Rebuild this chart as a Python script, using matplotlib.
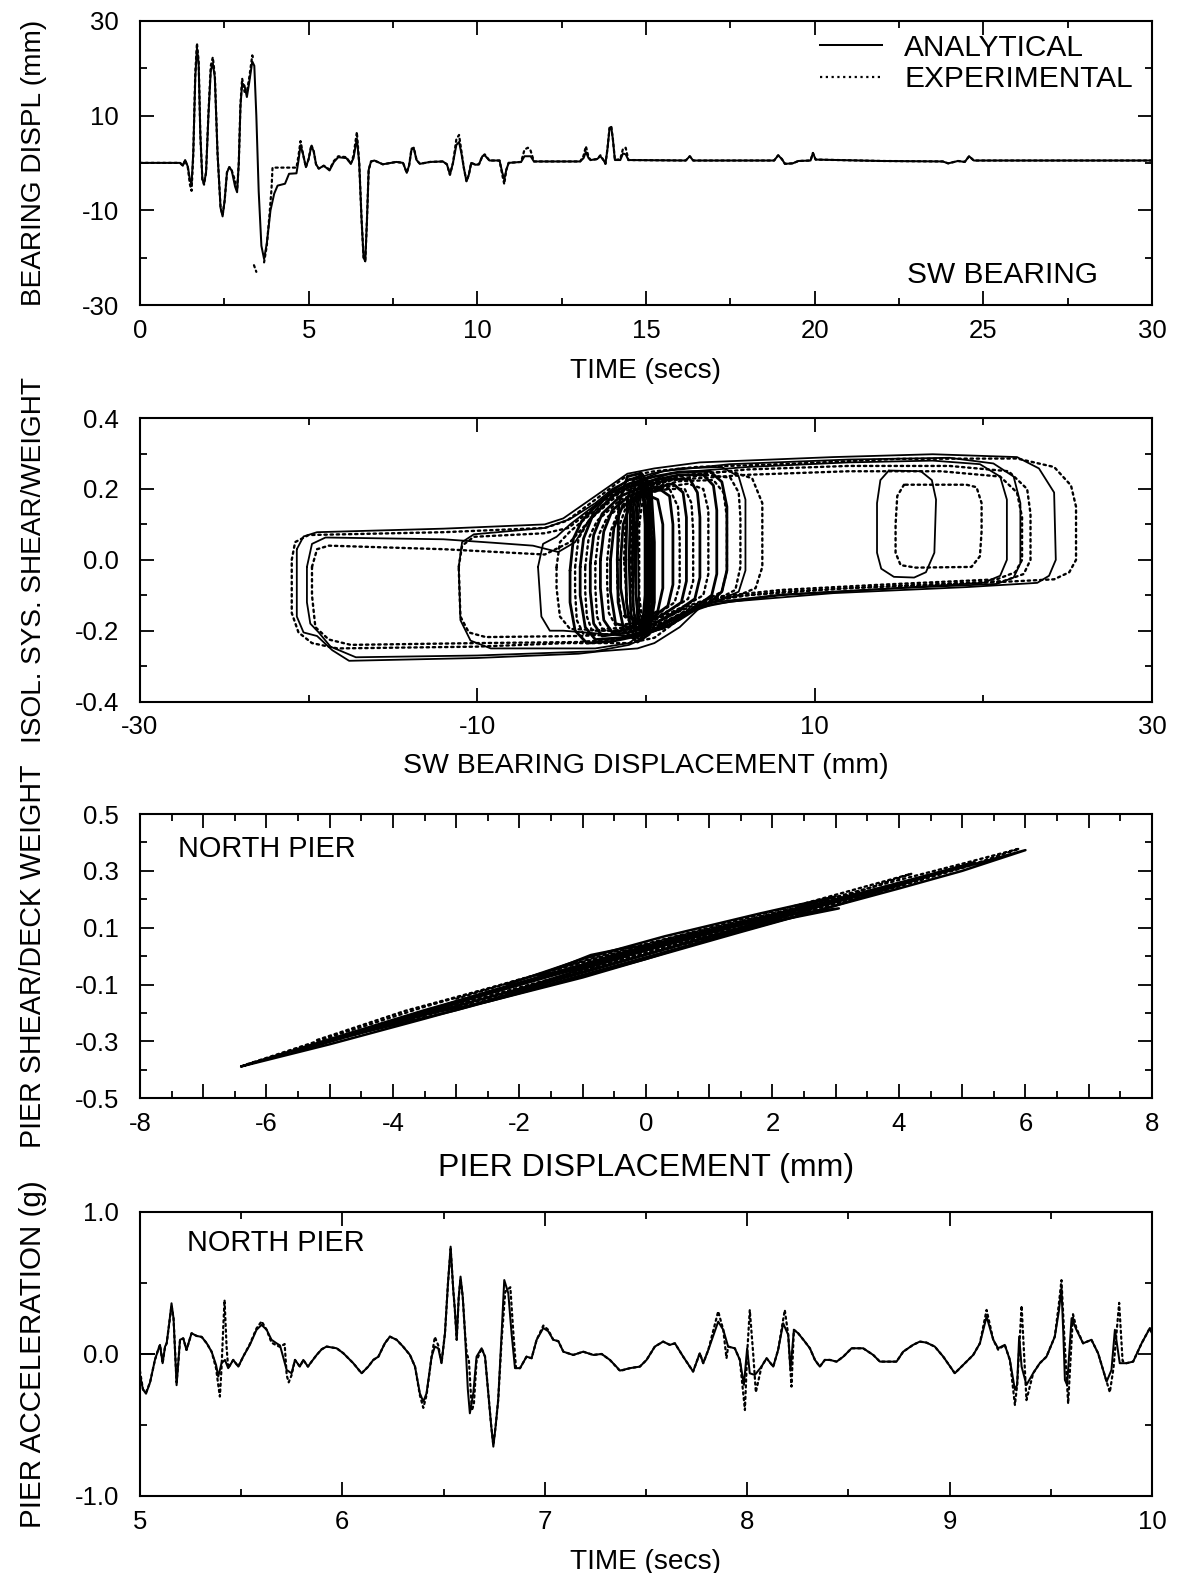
import matplotlib
matplotlib.use("Agg")
import matplotlib.pyplot as plt
from matplotlib.ticker import FixedLocator, MultipleLocator, FuncFormatter

plt.rcParams["font.family"] = ["Liberation Sans", "DejaVu Sans"]
plt.rcParams["axes.unicode_minus"] = False

# ---------------------------------------------------------------- data
# (1) SW bearing displacement history: (time s, displacement mm)
bearing_analytical = [
    (0.00, 0.0), (1.19, 0.0), (1.27, -0.6), (1.34, 0.6), (1.42, -0.8), (1.48, -3.5), (1.53, -4.4),
    (1.58, 2.0), (1.64, 18.0), (1.69, 24.2), (1.74, 21.0), (1.79, 6.0), (1.85, -3.5), (1.90, -4.4),
    (1.96, -2.0), (2.03, 10.0), (2.10, 19.5), (2.16, 21.0), (2.22, 18.0), (2.30, 2.0), (2.39, -9.5),
    (2.45, -11.3), (2.51, -8.0), (2.58, -2.0), (2.65, -0.9), (2.72, -1.6), (2.82, -5.0), (2.88, -6.2),
    (2.93, 0.0), (2.98, 12.0), (3.03, 16.8), (3.10, 16.3), (3.17, 13.9), (3.24, 17.0), (3.33, 21.4),
    (3.39, 20.5), (3.45, 10.0), (3.52, -6.0), (3.60, -17.5), (3.68, -20.3), (3.76, -17.0), (3.87, -10.0),
    (3.98, -6.5), (4.08, -4.8), (4.30, -4.4), (4.42, -2.3), (4.64, -2.2), (4.70, 0.5), (4.76, 3.7),
    (4.83, 2.0), (4.92, -0.9), (5.00, 0.8), (5.08, 3.5), (5.15, 2.5), (5.22, -0.3), (5.30, -1.2),
    (5.45, -0.6), (5.62, -1.6), (5.75, 0.2), (5.88, 1.2), (6.12, 1.0), (6.25, -0.2), (6.33, 1.0),
    (6.43, 5.1), (6.50, 0.0), (6.57, -12.0), (6.63, -20.0), (6.68, -20.8), (6.73, -12.0), (6.78, -1.5),
    (6.85, 0.3), (6.95, 0.5), (7.20, -0.3), (7.60, 0.2), (7.80, 0.0), (7.91, -2.1), (7.98, -0.5),
    (8.05, 2.8), (8.12, 3.0), (8.20, 0.6), (8.30, -0.2), (8.60, 0.2), (8.98, 0.3), (9.10, -0.3),
    (9.19, -2.5), (9.28, 0.0), (9.38, 3.8), (9.46, 4.4), (9.53, 2.0), (9.60, -1.0), (9.68, -3.9),
    (9.75, -2.5), (9.82, 0.0), (9.95, -0.4), (10.05, -0.3), (10.15, 1.4), (10.22, 1.6), (10.36, 0.5),
    (10.66, 0.5), (10.74, -2.0), (10.80, -3.5), (10.86, -1.5), (10.93, 0.0), (11.30, 0.2), (11.40, 1.4),
    (11.58, 1.4), (11.68, 0.3), (13.05, 0.3), (13.15, 1.0), (13.22, 2.3), (13.30, 1.0), (13.36, 0.6),
    (13.55, 0.8), (13.65, 1.4), (13.75, 0.5), (13.80, -0.2), (13.86, 3.0), (13.92, 7.2), (13.97, 7.6),
    (14.02, 5.0), (14.08, 0.6), (14.24, 0.6), (14.32, 2.0), (14.40, 1.8), (14.48, 0.6), (16.18, 0.5),
    (16.30, 1.4), (16.40, 0.5), (18.80, 0.5), (18.92, 1.6), (19.03, 0.8), (19.12, -0.2), (19.35, -0.1),
    (19.52, 0.4), (19.88, 0.5), (19.95, 2.1), (20.03, 0.7), (22.0, 0.4), (23.80, 0.3), (23.96, -0.1),
    (24.25, 0.4), (24.45, 0.2), (24.58, 1.4), (24.72, 0.5), (30.00, 0.5),
]
bearing_experimental = [
    (0.00, 0.0), (1.19, 0.0), (1.27, -0.6), (1.34, 0.6), (1.42, -1.0), (1.48, -4.5), (1.53, -5.9),
    (1.58, 1.5), (1.64, 19.0), (1.69, 25.3), (1.74, 21.5), (1.79, 6.0), (1.85, -3.5), (1.90, -4.6),
    (1.96, -2.0), (2.03, 10.5), (2.10, 20.5), (2.16, 22.3), (2.22, 18.5), (2.30, 2.0), (2.39, -9.5),
    (2.45, -11.0), (2.51, -8.0), (2.58, -2.0), (2.65, -0.9), (2.72, -1.6), (2.80, -3.3), (2.88, -5.8),
    (2.93, 0.0), (2.98, 12.5), (3.03, 17.8), (3.10, 15.0), (3.17, 15.0), (3.24, 18.0), (3.33, 22.7),
    (3.36, 22.0), (3.37, float("nan")), (3.38, -21.6), (3.45, -23.0), (3.48, float("nan")),
    (3.68, -21.0), (3.76, -17.5), (3.84, -11.0), (3.90, -5.5), (3.93, -1.0), (4.40, -1.0),
    (4.64, -1.0), (4.70, 1.5), (4.76, 4.6), (4.83, 2.0), (4.92, -0.9), (5.00, 0.8), (5.08, 3.8),
    (5.15, 2.5), (5.22, -0.3), (5.30, -1.2), (5.45, -0.6), (5.62, -1.4), (5.75, 0.4), (5.88, 1.4),
    (6.12, 1.2), (6.25, -0.2), (6.33, 1.5), (6.43, 6.5), (6.50, 0.0), (6.57, -12.0), (6.63, -20.0),
    (6.68, -20.6), (6.73, -12.0), (6.78, -1.5), (6.85, 0.3), (6.95, 0.5), (7.20, -0.3), (7.60, 0.2),
    (7.80, 0.0), (7.91, -2.1), (7.98, -0.5), (8.05, 3.0), (8.12, 3.2), (8.20, 0.6), (8.30, -0.2),
    (8.60, 0.2), (8.98, 0.3), (9.10, -0.3), (9.19, -2.5), (9.28, 0.0), (9.38, 5.0), (9.46, 5.9),
    (9.53, 2.5), (9.60, -1.0), (9.68, -3.9), (9.75, -2.5), (9.82, 0.0), (9.95, -0.4), (10.05, -0.3),
    (10.15, 1.4), (10.22, 1.8), (10.36, 0.5), (10.66, 0.5), (10.74, -2.5), (10.80, -4.5), (10.86, -1.5),
    (10.93, 0.0), (11.30, 0.2), (11.40, 2.8), (11.50, 3.2), (11.58, 2.6), (11.68, 0.3), (13.05, 0.3),
    (13.15, 1.5), (13.22, 3.5), (13.30, 1.2), (13.36, 0.6), (13.55, 0.8), (13.65, 1.6), (13.75, 0.5),
    (13.80, -0.2), (13.86, 3.0), (13.92, 7.4), (13.97, 7.8), (14.02, 5.0), (14.08, 0.6), (14.24, 0.8),
    (14.32, 3.0), (14.40, 3.2), (14.48, 0.6), (16.18, 0.5), (16.30, 1.4), (16.40, 0.5), (18.80, 0.5),
    (18.92, 1.6), (19.03, 0.8), (19.12, -0.2), (19.35, -0.1), (19.52, 0.4), (19.88, 0.5), (19.95, 2.1),
    (20.03, 0.7), (22.0, 0.4), (23.80, 0.3), (23.96, -0.1), (24.25, 0.4), (24.45, 0.2), (24.58, 1.4),
    (24.72, 0.5), (30.00, 0.5),
]

# (2) isolation system hysteresis loops: (bearing displacement mm, shear/weight)
iso_analytical_full = [
    (-20.7, 0.03), (-20.3, 0.066), (-19.5, 0.078), (-12.0, 0.088), (-6.0, 0.100), (-4.9, 0.117),
    (-3.0, 0.18), (-1.1, 0.243), (0.5, 0.258), (3.2, 0.275), (11.1, 0.29), (17.0, 0.298), (22.0, 0.29),
    (23.3, 0.258), (24.2, 0.19), (24.3, 0.0), (23.9, -0.045), (23.2, -0.065), (19.0, -0.077),
    (11.1, -0.094), (5.0, -0.118), (3.2, -0.135), (2.0, -0.19), (0.5, -0.235), (-0.5, -0.25),
    (-2.7, -0.258), (-4.0, -0.265), (-10.0, -0.277), (-17.6, -0.285), (-18.6, -0.255), (-19.5, -0.215),
    (-20.3, -0.205), (-20.7, -0.16), (-20.7, 0.03),
]
iso_analytical_left = [
    (-20.1, -0.02), (-19.8, 0.045), (-19.0, 0.063), (-12.0, 0.058), (-9.0, 0.048), (-6.7, 0.040),
    (-5.2, 0.022), (-4.2, 0.05), (-3.0, 0.14), (-2.0, 0.195), (-1.0, 0.228), (-0.3, 0.235), (0.1, 0.18),
    (0.1, -0.15), (-0.3, -0.225), (-1.0, -0.24), (-3.0, -0.258), (-10.0, -0.27), (-17.2, -0.275),
    (-18.7, -0.245), (-19.4, -0.205), (-19.9, -0.18), (-20.1, -0.12), (-20.1, -0.02),
]
iso_analytical_mid = [
    (-11.1, -0.02), (-10.9, 0.05), (-10.2, 0.072), (-6.0, 0.09), (-4.5, 0.115), (-3.0, 0.16),
    (-2.0, 0.2), (-1.0, 0.225), (-0.2, 0.23), (0.2, 0.16), (0.3, -0.1), (0.0, -0.2), (-1.0, -0.235),
    (-3.0, -0.25), (-9.2, -0.25), (-10.4, -0.228), (-11.0, -0.17), (-11.1, -0.02),
]
iso_analytical_inner = [
    (-6.4, -0.02), (-6.1, 0.045), (-5.3, 0.065), (-4.5, 0.1), (-3.0, 0.155), (-2.0, 0.195),
    (-1.0, 0.225), (0.5, 0.245), (2.0, 0.258), (4.5, 0.262), (5.5, 0.235), (5.9, 0.17), (5.9, -0.03),
    (5.5, -0.09), (4.5, -0.11), (3.0, -0.14), (2.0, -0.17), (1.0, -0.195), (-1.0, -0.215),
    (-4.9, -0.2), (-5.7, -0.2), (-6.2, -0.16), (-6.4, -0.02),
]
iso_analytical_right_a = [
    (-0.7, 0.12), (-0.4, 0.225), (1.0, 0.25), (5.0, 0.27), (12.0, 0.283), (18.0, 0.288),
    (20.6, 0.272), (21.8, 0.235), (22.2, 0.16), (22.2, -0.01), (21.8, -0.05), (20.8, -0.068),
    (15.0, -0.08), (8.0, -0.1), (4.0, -0.125), (2.5, -0.15), (1.5, -0.185), (0.3, -0.205),
    (-0.5, -0.18), (-0.7, 0.0), (-0.7, 0.12),
]
iso_analytical_right_b = [
    (-0.5, 0.1), (-0.2, 0.215), (1.5, 0.245), (6.0, 0.262), (12.0, 0.275), (17.0, 0.28),
    (19.8, 0.27), (21.0, 0.235), (21.4, 0.17), (21.4, 0.0), (21.0, -0.045), (20.0, -0.065),
    (14.0, -0.082), (8.0, -0.098), (4.0, -0.12), (2.5, -0.145), (1.2, -0.18), (0.2, -0.2),
    (-0.4, -0.15), (-0.5, 0.1),
]
iso_analytical_small = [
    (14.4, 0.252), (13.9, 0.225), (13.7, 0.16), (13.7, 0.02), (13.95, -0.025), (14.7, -0.048),
    (15.9, -0.05), (16.6, -0.035), (17.1, 0.02), (17.2, 0.17), (16.95, 0.225), (16.3, 0.25),
    (14.4, 0.252),
]
iso_analytical_core = [
    [(-4.5, -0.03), (-4.3, 0.06), (-3.8, 0.11), (-3.0, 0.15), (-2.0, 0.19), (-1.0, 0.215), (0.5, 0.235),
     (2.0, 0.248), (3.8, 0.25), (4.5, 0.22), (4.8, 0.15), (4.8, -0.03), (4.5, -0.09), (3.8, -0.12),
     (2.5, -0.15), (1.5, -0.18), (0.0, -0.21), (-2.0, -0.23), (-3.5, -0.235), (-4.2, -0.2),
     (-4.5, -0.12), (-4.5, -0.03)],
    [(-3.9, -0.02), (-3.7, 0.06), (-3.2, 0.12), (-2.0, 0.18), (-1.0, 0.205), (0.5, 0.225), (2.0, 0.24),
     (3.4, 0.24), (4.0, 0.21), (4.2, 0.14), (4.2, -0.04), (3.9, -0.1), (3.2, -0.125), (2.0, -0.16),
     (0.5, -0.195), (-1.5, -0.22), (-3.0, -0.225), (-3.6, -0.19), (-3.9, -0.1), (-3.9, -0.02)],
    [(-3.3, -0.01), (-3.1, 0.07), (-2.6, 0.13), (-1.5, 0.18), (0.0, 0.21), (1.5, 0.228), (2.6, 0.228),
     (3.05, 0.19), (3.2, 0.12), (3.2, -0.05), (2.9, -0.11), (2.0, -0.14), (0.5, -0.18), (-1.0, -0.205),
     (-2.6, -0.215), (-3.1, -0.18), (-3.3, -0.09), (-3.3, -0.01)],
    [(-2.7, 0.0), (-2.5, 0.08), (-2.0, 0.14), (-1.0, 0.18), (0.3, 0.2), (1.6, 0.215), (2.2, 0.19),
     (2.4, 0.12), (2.4, -0.06), (2.1, -0.12), (1.0, -0.155), (-0.5, -0.19), (-2.0, -0.205),
     (-2.5, -0.17), (-2.7, -0.08), (-2.7, 0.0)],
    [(-2.1, 0.0), (-1.9, 0.09), (-1.4, 0.15), (-0.5, 0.18), (0.8, 0.2), (1.4, 0.18), (1.6, 0.1),
     (1.6, -0.07), (1.3, -0.13), (0.3, -0.165), (-1.0, -0.19), (-1.8, -0.18), (-2.1, -0.09), (-2.1, 0.0)],
    [(-1.5, 0.0), (-1.35, 0.1), (-0.9, 0.16), (0.0, 0.185), (0.7, 0.17), (1.0, 0.1), (1.0, -0.08),
     (0.7, -0.145), (-0.3, -0.17), (-1.2, -0.16), (-1.5, -0.08), (-1.5, 0.0)],
    [(-1.7, 0.0), (-1.6, 0.16), (-1.1, 0.235), (-0.3, 0.245), (0.3, 0.21), (0.5, 0.05), (0.5, -0.12),
     (0.2, -0.21), (-0.5, -0.232), (-1.3, -0.2), (-1.65, -0.12), (-1.7, 0.0)],
    [(-1.2, 0.0), (-1.1, 0.17), (-0.7, 0.23), (-0.2, 0.24), (0.2, 0.2), (0.35, 0.05), (0.35, -0.12),
     (0.1, -0.2), (-0.4, -0.225), (-0.9, -0.2), (-1.15, -0.12), (-1.2, 0.0)],
    [(-1.0, 0.0), (-0.9, 0.16), (-0.6, 0.215), (-0.2, 0.22), (0.1, 0.17), (0.2, 0.0), (0.15, -0.15),
     (-0.2, -0.21), (-0.6, -0.205), (-0.9, -0.15), (-1.0, 0.0)],
    [(-0.8, 0.0), (-0.75, 0.15), (-0.5, 0.2), (-0.2, 0.2), (0.0, 0.15), (0.05, 0.0), (0.0, -0.15),
     (-0.3, -0.2), (-0.6, -0.19), (-0.75, -0.13), (-0.8, 0.0)],
    [(-0.6, 0.0), (-0.55, 0.14), (-0.35, 0.19), (-0.15, 0.18), (-0.05, 0.1), (-0.05, -0.1),
     (-0.2, -0.18), (-0.45, -0.17), (-0.58, -0.1), (-0.6, 0.0)],
]

iso_experimental_full = [
    (-21.0, 0.0), (-20.8, 0.05), (-20.0, 0.07), (-12.0, 0.078), (-6.0, 0.09), (-4.7, 0.11),
    (-3.0, 0.17), (-1.2, 0.235), (0.5, 0.25), (3.0, 0.262), (8.0, 0.27), (15.0, 0.285), (22.0, 0.286),
    (24.2, 0.262), (25.2, 0.21), (25.5, 0.15), (25.5, 0.0), (25.1, -0.035), (24.2, -0.055),
    (20.0, -0.065), (12.0, -0.08), (6.0, -0.1), (3.5, -0.12), (2.2, -0.16), (0.5, -0.22),
    (-1.0, -0.235), (-4.7, -0.235), (-10.0, -0.245), (-18.3, -0.25), (-19.8, -0.235), (-20.6, -0.205),
    (-21.0, -0.15), (-21.0, 0.0),
]
iso_experimental_left = [
    (-19.8, -0.02), (-19.5, 0.03), (-18.8, 0.04), (-12.0, 0.03), (-8.0, 0.02), (-6.0, 0.015),
    (-4.5, 0.05), (-3.0, 0.13), (-1.5, 0.2), (-0.5, 0.22), (0.0, 0.15), (0.0, -0.15), (-0.5, -0.21),
    (-2.0, -0.225), (-4.0, -0.232), (-10.0, -0.235), (-17.5, -0.24), (-18.8, -0.225), (-19.6, -0.19),
    (-19.8, -0.1), (-19.8, -0.02),
]
iso_experimental_mid = [
    (-11.1, -0.02), (-10.9, 0.04), (-10.2, 0.065), (-6.0, 0.075), (-4.6, 0.09), (-3.0, 0.15),
    (-1.5, 0.2), (-0.3, 0.22), (0.2, 0.15), (0.3, -0.1), (0.0, -0.19), (-1.5, -0.21), (-4.0, -0.215),
    (-9.5, -0.218), (-10.5, -0.205), (-11.0, -0.16), (-11.1, -0.02),
]
iso_experimental_inner = [
    (-5.3, -0.02), (-5.1, 0.05), (-4.5, 0.08), (-3.0, 0.14), (-1.5, 0.19), (0.5, 0.22), (2.5, 0.24),
    (5.0, 0.25), (6.3, 0.23), (6.9, 0.16), (6.9, -0.02), (6.5, -0.08), (5.5, -0.1), (3.5, -0.125),
    (2.0, -0.155), (0.5, -0.19), (-2.0, -0.2), (-4.5, -0.195), (-5.1, -0.16), (-5.3, -0.08),
    (-5.3, -0.02),
]
iso_experimental_right_a = [
    (-0.6, 0.1), (-0.3, 0.21), (1.5, 0.235), (6.0, 0.255), (12.0, 0.265), (18.0, 0.265), (21.5, 0.25),
    (22.6, 0.2), (22.8, 0.13), (22.8, 0.0), (22.4, -0.04), (21.2, -0.06), (14.0, -0.075), (8.0, -0.09),
    (4.0, -0.11), (2.5, -0.14), (1.0, -0.18), (-0.3, -0.19), (-0.6, -0.1), (-0.6, 0.1),
]
iso_experimental_right_b = [
    (-0.4, 0.1), (-0.1, 0.2), (1.5, 0.225), (6.0, 0.24), (12.0, 0.25), (17.5, 0.25), (21.0, 0.235),
    (22.0, 0.19), (22.3, 0.12), (22.3, 0.0), (21.9, -0.035), (20.8, -0.055), (14.0, -0.07),
    (8.0, -0.085), (4.0, -0.105), (2.5, -0.13), (1.0, -0.17), (-0.2, -0.18), (-0.4, -0.1), (-0.4, 0.1),
]
iso_experimental_small = [
    (15.3, 0.212), (14.9, 0.18), (14.8, 0.1), (14.8, 0.02), (15.1, -0.015), (16.0, -0.022),
    (19.3, -0.02), (19.8, 0.01), (19.9, 0.08), (19.9, 0.16), (19.6, 0.205), (19.0, 0.212), (15.3, 0.212),
]
iso_experimental_core = [
    [(-4.2, -0.02), (-4.0, 0.06), (-3.4, 0.11), (-2.0, 0.17), (-0.5, 0.2), (1.5, 0.225), (3.5, 0.24),
     (5.0, 0.232), (5.5, 0.19), (5.6, 0.12), (5.6, -0.02), (5.3, -0.085), (4.5, -0.105), (3.0, -0.13),
     (1.5, -0.165), (0.0, -0.195), (-2.0, -0.21), (-3.7, -0.21), (-4.1, -0.17), (-4.2, -0.09),
     (-4.2, -0.02)],
    [(-3.6, -0.02), (-3.4, 0.06), (-2.9, 0.11), (-1.5, 0.17), (0.0, 0.2), (2.0, 0.222), (4.0, 0.225),
     (4.6, 0.19), (4.8, 0.12), (4.8, -0.03), (4.5, -0.09), (3.5, -0.115), (2.0, -0.145), (0.5, -0.18),
     (-1.5, -0.2), (-3.2, -0.2), (-3.5, -0.16), (-3.6, -0.09), (-3.6, -0.02)],
    [(-3.0, -0.01), (-2.8, 0.07), (-2.3, 0.12), (-1.0, 0.17), (0.5, 0.2), (2.5, 0.215), (3.4, 0.2),
     (3.7, 0.14), (3.7, -0.04), (3.4, -0.1), (2.5, -0.125), (1.0, -0.16), (-0.5, -0.19),
     (-2.6, -0.195), (-2.9, -0.16), (-3.0, -0.08), (-3.0, -0.01)],
    [(-2.3, 0.0), (-2.1, 0.08), (-1.6, 0.14), (-0.5, 0.175), (1.0, 0.2), (2.3, 0.2), (2.7, 0.16),
     (2.8, 0.08), (2.8, -0.06), (2.5, -0.11), (1.5, -0.14), (0.0, -0.175), (-1.8, -0.185),
     (-2.2, -0.15), (-2.3, -0.07), (-2.3, 0.0)],
    [(-1.7, 0.0), (-1.55, 0.1), (-1.1, 0.16), (0.0, 0.19), (1.4, 0.2), (1.9, 0.15), (2.0, 0.06),
     (2.0, -0.07), (1.7, -0.12), (0.5, -0.16), (-0.8, -0.18), (-1.5, -0.15), (-1.7, -0.07), (-1.7, 0.0)],
    [(-1.3, 0.0), (-1.2, 0.12), (-0.8, 0.19), (-0.2, 0.21), (0.3, 0.17), (0.45, 0.0), (0.35, -0.15),
     (0.0, -0.2), (-0.6, -0.2), (-1.1, -0.14), (-1.3, 0.0)],
    [(-0.9, 0.0), (-0.85, 0.14), (-0.55, 0.19), (-0.2, 0.19), (0.0, 0.12), (0.05, -0.05),
     (-0.1, -0.17), (-0.45, -0.19), (-0.75, -0.14), (-0.9, 0.0)],
]

# (3) north pier hysteresis: (pier displacement mm, pier shear/deck weight)
pier_analytical = [
    [(-6.4, -0.388), (-5.0, -0.292), (-3.5, -0.19), (-2.0, -0.095), (-0.5, -0.005), (1.0, 0.085),
     (2.5, 0.168), (4.0, 0.255), (5.0, 0.312), (6.0, 0.373), (5.0, 0.30), (4.0, 0.238), (2.5, 0.148),
     (1.0, 0.058), (-0.5, -0.035), (-2.0, -0.128), (-3.5, -0.22), (-5.0, -0.31), (-6.4, -0.388)],
    [(-4.6, -0.275), (-3.0, -0.165), (-1.5, -0.07), (0.0, 0.02), (1.5, 0.11), (3.0, 0.2), (4.5, 0.285),
     (3.0, 0.178), (1.5, 0.085), (0.0, -0.01), (-1.5, -0.1), (-3.0, -0.19), (-4.6, -0.275)],
    [(-3.6, -0.21), (-2.5, -0.13), (-1.5, -0.065), (-0.5, 0.005), (0.5, 0.065), (1.5, 0.12),
     (3.1, 0.2), (2.0, 0.125), (1.0, 0.06), (0.0, -0.01), (-1.0, -0.075), (-2.5, -0.16), (-3.6, -0.21)],
    [(-1.7, -0.066), (-1.2, -0.025), (-0.87, 0.004), (-0.3, 0.03), (0.15, 0.04), (-0.3, 0.0),
     (-0.87, -0.037), (-1.3, -0.055), (-1.7, -0.066)],
    [(0.6, 0.06), (1.3, 0.10), (2.2, 0.145), (3.05, 0.168), (2.2, 0.13), (1.3, 0.085), (0.6, 0.045)],
    [(-2.8, -0.15), (-1.5, -0.06), (0.0, 0.03), (1.5, 0.118), (2.6, 0.18), (1.5, 0.1), (0.0, 0.005),
     (-1.5, -0.09), (-2.8, -0.175)],
    [(-5.6, -0.34), (-4.0, -0.228), (-2.5, -0.125), (-1.0, -0.03), (0.5, 0.055), (2.0, 0.14),
     (3.5, 0.228), (5.2, 0.33), (4.0, 0.25), (2.5, 0.16), (1.0, 0.07), (-0.5, -0.025), (-2.0, -0.115),
     (-3.5, -0.205), (-5.6, -0.34)],
    [(-2.2, -0.1), (-1.0, -0.01), (0.3, 0.07), (1.8, 0.15), (3.0, 0.21), (1.8, 0.13), (0.3, 0.04),
     (-1.0, -0.045), (-2.2, -0.13)],
]
pier_experimental = [
    [(-6.3, -0.38), (-5.0, -0.285), (-3.5, -0.178), (-2.0, -0.082), (-0.5, 0.008), (1.0, 0.092),
     (2.5, 0.178), (4.0, 0.268), (5.0, 0.325), (5.9, 0.378), (5.0, 0.31), (4.0, 0.245), (2.5, 0.155),
     (1.0, 0.065), (-0.5, -0.025), (-2.0, -0.118), (-3.5, -0.21), (-5.0, -0.3), (-6.3, -0.38)],
    [(-5.2, -0.295), (-3.8, -0.192), (-2.3, -0.102), (-1.0, -0.02), (0.5, 0.07), (2.0, 0.15),
     (3.3, 0.22), (2.0, 0.13), (0.5, 0.045), (-1.0, -0.05), (-2.5, -0.145), (-3.8, -0.225), (-5.2, -0.31)],
    [(-3.0, -0.15), (-1.8, -0.07), (-0.5, 0.015), (1.0, 0.1), (2.5, 0.185), (4.2, 0.29), (3.0, 0.2),
     (1.5, 0.11), (0.0, 0.01), (-1.5, -0.08), (-3.0, -0.17)],
]

# (4) north pier acceleration history: (time s, acceleration g)
accel_analytical = [
    (5.000, -0.15), (5.015, -0.25), (5.030, -0.28), (5.050, -0.20), (5.074, -0.042), (5.090, 0.03),
    (5.099, 0.064), (5.112, -0.065), (5.124, 0.052), (5.132, 0.075), (5.145, 0.22), (5.156, 0.357),
    (5.166, 0.25), (5.181, -0.22), (5.190, -0.05), (5.198, 0.10), (5.214, 0.11), (5.230, 0.028),
    (5.255, 0.146), (5.280, 0.127), (5.305, 0.12), (5.330, 0.075), (5.354, 0.016), (5.376, -0.077),
    (5.387, -0.159), (5.403, -0.065), (5.420, -0.042), (5.436, -0.10), (5.461, -0.042), (5.486, -0.089),
    (5.510, -0.019), (5.543, 0.064), (5.576, 0.17), (5.601, 0.205), (5.626, 0.17), (5.650, 0.10),
    (5.675, 0.075), (5.692, 0.06), (5.725, -0.113), (5.749, -0.136), (5.766, -0.042), (5.790, -0.089),
    (5.807, -0.042), (5.830, -0.089), (5.848, -0.054), (5.873, -0.007), (5.898, 0.033), (5.922, 0.052),
    (5.972, 0.04), (6.005, 0.005), (6.054, -0.065), (6.095, -0.136), (6.128, -0.089), (6.153, -0.042),
    (6.178, -0.019), (6.210, 0.075), (6.235, 0.122), (6.268, 0.10), (6.300, 0.052), (6.334, -0.007),
    (6.359, -0.089), (6.383, -0.277), (6.400, -0.336), (6.416, -0.277), (6.441, -0.019), (6.457, 0.052),
    (6.474, 0.04), (6.490, -0.065), (6.507, 0.146), (6.522, 0.50), (6.535, 0.756), (6.548, 0.45),
    (6.556, 0.31), (6.565, 0.10), (6.575, 0.40), (6.584, 0.545), (6.595, 0.40), (6.606, 0.146),
    (6.620, -0.25), (6.630, -0.418), (6.647, -0.277), (6.663, -0.019), (6.688, 0.04), (6.705, -0.019),
    (6.721, -0.277), (6.735, -0.50), (6.746, -0.653), (6.758, -0.50), (6.770, -0.324), (6.787, 0.146),
    (6.800, 0.521), (6.820, 0.427), (6.836, 0.146), (6.853, -0.10), (6.878, -0.10), (6.910, -0.019),
    (6.935, -0.03), (6.960, 0.10), (6.993, 0.183), (7.017, 0.16), (7.042, 0.10), (7.067, 0.09),
    (7.092, 0.016), (7.141, -0.007), (7.190, 0.016), (7.240, -0.007), (7.281, 0.0), (7.322, -0.042),
    (7.372, -0.117), (7.421, -0.10), (7.470, -0.089), (7.503, -0.042), (7.544, 0.052), (7.585, 0.087),
    (7.618, 0.064), (7.643, 0.075), (7.684, -0.019), (7.733, -0.124), (7.766, 0.005), (7.783, -0.065),
    (7.808, 0.028), (7.857, 0.228), (7.882, 0.17), (7.906, 0.052), (7.939, 0.04), (7.964, -0.042),
    (7.984, -0.218), (8.000, 0.04), (8.013, -0.136), (8.038, -0.148), (8.071, -0.089), (8.096, -0.03),
    (8.129, -0.089), (8.153, 0.028), (8.178, 0.216), (8.203, 0.134), (8.214, -0.113), (8.231, 0.17),
    (8.252, 0.146), (8.285, 0.087), (8.310, 0.04), (8.335, -0.042), (8.359, -0.089), (8.384, -0.042),
    (8.409, -0.042), (8.442, -0.054), (8.475, -0.019), (8.516, 0.04), (8.573, 0.04), (8.623, -0.007),
    (8.656, -0.054), (8.738, -0.054), (8.771, 0.016), (8.820, 0.064), (8.853, 0.087), (8.886, 0.08),
    (8.927, 0.052), (8.969, -0.019), (9.026, -0.136), (9.076, -0.065), (9.117, -0.007), (9.150, 0.075),
    (9.183, 0.263), (9.216, 0.10), (9.240, 0.04), (9.273, 0.064), (9.298, -0.042), (9.323, -0.253),
    (9.334, -0.218), (9.344, 0.122), (9.356, -0.089), (9.380, -0.218), (9.413, -0.136), (9.446, -0.065),
    (9.479, -0.019), (9.520, 0.122), (9.540, 0.30), (9.553, 0.462), (9.562, 0.15), (9.570, -0.183),
    (9.581, -0.218), (9.603, 0.252), (9.627, 0.17), (9.660, 0.075), (9.701, 0.10), (9.734, 0.005),
    (9.776, -0.195), (9.800, -0.113), (9.817, 0.17), (9.841, -0.065), (9.874, -0.065), (9.907, -0.054),
    (9.949, 0.075), (9.990, 0.183), (10.000, 0.146),
]
accel_experimental = [
    (5.000, -0.12), (5.015, -0.25), (5.030, -0.27), (5.050, -0.20), (5.074, -0.042), (5.090, 0.03),
    (5.099, 0.064), (5.112, -0.065), (5.124, 0.052), (5.132, 0.075), (5.145, 0.22), (5.156, 0.34),
    (5.166, 0.25), (5.181, -0.20), (5.190, -0.05), (5.198, 0.10), (5.214, 0.11), (5.230, 0.028),
    (5.255, 0.146), (5.280, 0.127), (5.305, 0.12), (5.330, 0.075), (5.354, 0.016), (5.376, -0.10),
    (5.387, -0.22), (5.395, -0.30), (5.403, -0.10), (5.412, 0.20), (5.418, 0.38), (5.428, 0.05),
    (5.436, -0.10), (5.461, -0.042), (5.486, -0.089), (5.510, -0.019), (5.543, 0.07), (5.576, 0.18),
    (5.601, 0.23), (5.626, 0.17), (5.650, 0.08), (5.675, 0.06), (5.692, 0.05), (5.715, 0.07),
    (5.725, -0.15), (5.735, -0.20), (5.749, -0.15), (5.766, -0.042), (5.790, -0.089), (5.807, -0.042),
    (5.830, -0.089), (5.848, -0.054), (5.873, -0.007), (5.898, 0.033), (5.922, 0.052), (5.972, 0.04),
    (6.005, 0.005), (6.054, -0.065), (6.095, -0.136), (6.128, -0.089), (6.153, -0.042), (6.178, -0.019),
    (6.210, 0.075), (6.235, 0.122), (6.268, 0.10), (6.300, 0.052), (6.334, -0.007), (6.359, -0.089),
    (6.383, -0.29), (6.400, -0.38), (6.416, -0.29), (6.441, -0.019), (6.457, 0.12), (6.474, 0.06),
    (6.490, -0.065), (6.507, 0.146), (6.522, 0.50), (6.535, 0.74), (6.548, 0.45), (6.556, 0.31),
    (6.565, 0.10), (6.575, 0.40), (6.584, 0.53), (6.595, 0.40), (6.606, 0.146), (6.615, 0.0),
    (6.625, -0.04), (6.640, -0.40), (6.650, -0.35), (6.663, -0.05), (6.688, 0.04), (6.705, -0.019),
    (6.721, -0.277), (6.735, -0.50), (6.746, -0.64), (6.758, -0.50), (6.770, -0.324), (6.787, 0.10),
    (6.805, 0.44), (6.830, 0.47), (6.845, 0.146), (6.858, -0.10), (6.878, -0.10), (6.910, -0.019),
    (6.935, -0.03), (6.960, 0.10), (6.993, 0.20), (7.017, 0.17), (7.042, 0.10), (7.067, 0.09),
    (7.092, 0.016), (7.141, -0.007), (7.190, 0.016), (7.240, -0.007), (7.281, 0.0), (7.322, -0.042),
    (7.372, -0.12), (7.421, -0.10), (7.470, -0.089), (7.503, -0.042), (7.544, 0.052), (7.585, 0.087),
    (7.618, 0.064), (7.643, 0.075), (7.684, -0.019), (7.733, -0.124), (7.766, 0.005), (7.783, -0.065),
    (7.808, 0.028), (7.857, 0.30), (7.882, 0.17), (7.898, -0.03), (7.906, 0.052), (7.939, 0.04),
    (7.964, -0.042), (7.989, -0.395), (8.000, 0.0), (8.013, 0.31), (8.030, 0.0), (8.043, -0.27),
    (8.071, -0.089), (8.096, -0.03), (8.129, -0.089), (8.153, 0.028), (8.186, 0.31), (8.203, 0.134),
    (8.219, -0.23), (8.231, 0.17), (8.252, 0.146), (8.285, 0.087), (8.310, 0.04), (8.335, -0.042),
    (8.359, -0.089), (8.384, -0.042), (8.409, -0.042), (8.442, -0.054), (8.475, -0.019), (8.516, 0.04),
    (8.573, 0.04), (8.623, -0.007), (8.656, -0.054), (8.738, -0.054), (8.771, 0.016), (8.820, 0.064),
    (8.853, 0.087), (8.886, 0.08), (8.927, 0.052), (8.969, -0.019), (9.026, -0.136), (9.076, -0.065),
    (9.117, -0.007), (9.150, 0.075), (9.183, 0.31), (9.216, 0.10), (9.240, 0.03), (9.273, 0.064),
    (9.298, -0.042), (9.323, -0.36), (9.334, -0.218), (9.356, 0.34), (9.368, 0.0), (9.380, -0.325),
    (9.413, -0.136), (9.446, -0.065), (9.479, -0.019), (9.520, 0.122), (9.540, 0.35), (9.553, 0.52),
    (9.566, 0.15), (9.586, -0.35), (9.610, 0.28), (9.627, 0.18), (9.660, 0.075), (9.701, 0.10),
    (9.734, 0.005), (9.792, -0.27), (9.810, -0.1), (9.838, 0.36), (9.855, -0.05), (9.874, -0.065),
    (9.907, -0.054), (9.949, 0.075), (9.990, 0.183), (10.000, 0.146),
]

# ---------------------------------------------------------------- styling helpers
LW_SOLID = 1.45
LW_DOT = 1.6
DOT = (0, (1.0, 1.6))
TICK_FS = 18.5
LABEL_FS = 20.2
NOTE_FS = 20.8


def xy(points):
    return [p[0] for p in points], [p[1] for p in points]


def draw_series(ax, pts, dotted=False, lw=None):
    xs, ys = xy(pts)
    if dotted:
        ax.plot(xs, ys, color="black", lw=lw or LW_DOT, linestyle=DOT, solid_joinstyle="round",
                dash_capstyle="round")
    else:
        ax.plot(xs, ys, color="black", lw=lw or LW_SOLID, solid_joinstyle="round",
                solid_capstyle="round")


def frame(ax):
    for s in ax.spines.values():
        s.set_linewidth(1.5)
    ax.tick_params(which="both", direction="in", top=True, right=True, width=1.3)
    ax.tick_params(which="major", length=10, labelsize=TICK_FS)
    ax.tick_params(which="minor", length=5)
    ax.tick_params(axis="y", which="both", pad=15)
    ax.tick_params(axis="x", which="both", pad=10)
    ax.yaxis.set_label_coords(-0.092, 0.5)


fig = plt.figure(figsize=(11.85, 15.73), dpi=100)
L, W = 0.1181, 0.8540

# ---- panel 1: bearing displacement history
ax1 = fig.add_axes([L, 0.8061, W, 0.1807])
draw_series(ax1, bearing_experimental, dotted=True)
draw_series(ax1, bearing_analytical)
ax1.set_xlim(0, 30)
ax1.set_ylim(-30, 30)
ax1.xaxis.set_major_locator(MultipleLocator(5))
ax1.xaxis.set_minor_locator(MultipleLocator(2.5))
ax1.yaxis.set_major_locator(FixedLocator([-30, -10, 10, 30]))
ax1.yaxis.set_minor_locator(FixedLocator([-20, 0, 20]))
frame(ax1)
ax1.set_xlabel("TIME (secs)", fontsize=LABEL_FS)
ax1.xaxis.set_label_coords(0.5, -0.186)
ax1.set_ylabel("BEARING DISPL (mm)", fontsize=LABEL_FS)
h_a, = ax1.plot([], [], color="black", lw=LW_SOLID, label="ANALYTICAL")
h_e, = ax1.plot([], [], color="black", lw=LW_DOT, linestyle=DOT, label="EXPERIMENTAL")
ax1.legend(handles=[h_a, h_e], loc="upper right", bbox_to_anchor=(0.981, 0.955), frameon=False,
           fontsize=21.5, handlelength=2.07, handletextpad=0.75, labelspacing=0.12,
           borderaxespad=0.0, borderpad=0.0)
ax1.text(0.947, 0.107, "SW BEARING", transform=ax1.transAxes, ha="right", va="center",
         fontsize=21.5)

# ---- panel 2: isolation system hysteresis
ax2 = fig.add_axes([L, 0.5540, W, 0.1802])
for loop in [iso_experimental_full, iso_experimental_left, iso_experimental_mid,
             iso_experimental_inner, iso_experimental_right_a, iso_experimental_right_b,
             iso_experimental_small] + iso_experimental_core:
    draw_series(ax2, loop, dotted=True, lw=1.7)
for loop in [iso_analytical_full, iso_analytical_left, iso_analytical_mid, iso_analytical_inner,
             iso_analytical_right_a, iso_analytical_right_b, iso_analytical_small]:
    draw_series(ax2, loop, lw=1.3)
for loop in iso_analytical_core:
    draw_series(ax2, loop, lw=2.0)
ax2.set_xlim(-30, 30)
ax2.set_ylim(-0.4, 0.4)
ax2.xaxis.set_major_locator(FixedLocator([-30, -10, 10, 30]))
ax2.xaxis.set_minor_locator(FixedLocator([-20, 0, 20]))
ax2.yaxis.set_major_locator(FixedLocator([-0.4, -0.2, 0.0, 0.2, 0.4]))
ax2.yaxis.set_major_formatter(FuncFormatter(lambda v, p: f"{v:.1f}"))
ax2.yaxis.set_minor_locator(MultipleLocator(0.1))
frame(ax2)
ax2.set_xlabel("SW BEARING DISPLACEMENT (mm)", fontsize=20.5)
ax2.xaxis.set_label_coords(0.5, -0.181)
ax2.set_ylabel("ISOL. SYS. SHEAR/WEIGHT", fontsize=LABEL_FS)

# ---- panel 3: north pier hysteresis
ax3 = fig.add_axes([L, 0.3018, W, 0.1807])
for loop in pier_experimental:
    draw_series(ax3, loop, dotted=True, lw=1.7)
for loop in pier_analytical:
    draw_series(ax3, loop, lw=1.8)
ax3.set_xlim(-8, 8)
ax3.set_ylim(-0.5, 0.5)
ax3.xaxis.set_major_locator(MultipleLocator(1))
ax3.xaxis.set_major_formatter(FuncFormatter(lambda v, p: f"{v:.0f}" if round(v) % 2 == 0 else ""))
ax3.xaxis.set_minor_locator(MultipleLocator(0.5))
ax3.yaxis.set_major_locator(FixedLocator([-0.5, -0.3, -0.1, 0.1, 0.3, 0.5]))
ax3.yaxis.set_major_formatter(FuncFormatter(lambda v, p: f"{v:.1f}"))
ax3.yaxis.set_minor_locator(FixedLocator([-0.4, -0.2, 0.0, 0.2, 0.4]))
frame(ax3)
ax3.set_xlabel("PIER DISPLACEMENT (mm)", fontsize=23)
ax3.xaxis.set_label_coords(0.5, -0.192)
ax3.set_ylabel("PIER SHEAR/DECK WEIGHT", fontsize=20.6)
ax3.text(0.0375, 0.877, "NORTH PIER", transform=ax3.transAxes, ha="left", va="center",
         fontsize=NOTE_FS)

# ---- panel 4: north pier acceleration history
ax4 = fig.add_axes([L, 0.0490, W, 0.1805])
draw_series(ax4, accel_experimental, dotted=True)
draw_series(ax4, accel_analytical)
ax4.plot([5.0, 5.07], [0.0, 0.0], color="black", lw=LW_SOLID)
ax4.set_xlim(5, 10)
ax4.set_ylim(-1, 1)
ax4.xaxis.set_major_locator(MultipleLocator(1))
ax4.xaxis.set_minor_locator(MultipleLocator(0.5))
ax4.yaxis.set_major_locator(FixedLocator([-1.0, 0.0, 1.0]))
ax4.yaxis.set_major_formatter(FuncFormatter(lambda v, p: f"{v:.1f}"))
ax4.yaxis.set_minor_locator(FixedLocator([-0.5, 0.5]))
frame(ax4)
ax4.set_xlabel("TIME (secs)", fontsize=LABEL_FS)
ax4.xaxis.set_label_coords(0.5, -0.187)
ax4.set_ylabel("PIER ACCELERATION (g)", fontsize=21.3)
ax4.text(0.046, 0.892, "NORTH PIER", transform=ax4.transAxes, ha="left", va="center",
         fontsize=NOTE_FS)

fig.savefig("out.png", dpi=100, facecolor="white")
